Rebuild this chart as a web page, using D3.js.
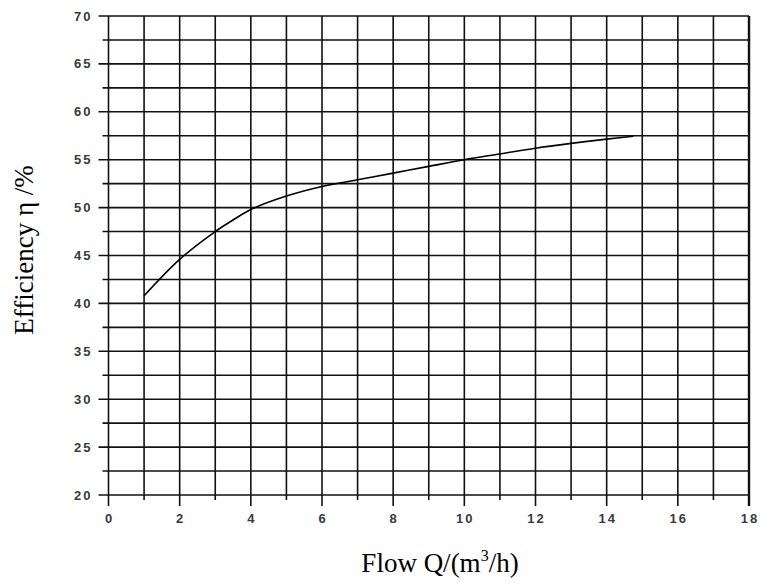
<!DOCTYPE html>
<html>
<head>
<meta charset="utf-8">
<script src="https://cdn.jsdelivr.net/npm/d3@7"></script>
<style>
  body { margin: 0; background: #fff; }
  .tick-label { font-family: "Liberation Sans", Arial, sans-serif; font-size: 13px; font-weight: bold; fill: #3a3a3a; letter-spacing: 2px; }
  .title { font-family: "Liberation Serif", "Times New Roman", serif; font-size: 27px; fill: #000; }
</style>
</head>
<body>
<div id="chart"></div>
<script>
// flow Q (m3/h) and efficiency (%)
const flow       = [1, 2, 3, 3.5, 4, 5, 6, 7, 8, 9, 10, 11, 12, 13, 14, 14.75];
const efficiency = [40.8, 44.6, 47.5, 48.7, 49.8, 51.2, 52.2, 52.9, 53.6, 54.3, 55.0, 55.6, 56.2, 56.7, 57.15, 57.45];

const xTicks = d3.range(0, 19, 1);        // grid every 1, label every 2
const yTicks = d3.range(20, 70.01, 2.5);  // grid every 2.5, label every 5

const margin = { top:16, right:14, bottom:90, left:108.5 };
const width  = 763 - margin.left - margin.right;
const height = 585 - margin.top  - margin.bottom;

const x = d3.scaleLinear().domain([0, 18]).range([0, width]);
const y = d3.scaleLinear().domain([20, 70]).range([height, 0]);

const svg = d3.select('#chart').append('svg')
    .attr('width', 763)
    .attr('height', 585)
  .append('g')
    .attr('transform', `translate(${margin.left},${margin.top})`);

// vertical grid + bottom ticks
svg.append('g')
  .selectAll('line')
  .data(xTicks)
  .join('line')
    .attr('x1', d => x(d))
    .attr('x2', d => x(d))
    .attr('y1', 0)
    .attr('y2', d => height + (d % 2 === 0 ? 11 : 5))
    .attr('stroke', '#111')
    .attr('stroke-width', d => d === 18 ? 2.4 : 1.6);

// horizontal grid + left ticks
svg.append('g')
  .selectAll('line')
  .data(yTicks)
  .join('line')
    .attr('x1', d => (d % 5 === 0 ? -10 : -6))
    .attr('x2', width)
    .attr('y1', d => y(d))
    .attr('y2', d => y(d))
    .attr('stroke', '#111')
    .attr('stroke-width', 1.6);

// tick labels
svg.append('g')
  .selectAll('text')
  .data(xTicks.filter(d => d % 2 === 0))
  .join('text')
    .attr('class', 'tick-label')
    .attr('x', d => x(d) + 1)
    .attr('y', height + 23)
    .attr('dy', '0.35em')
    .attr('text-anchor', 'middle')
    .text(d => d);

svg.append('g')
  .selectAll('text')
  .data(yTicks.filter(d => d % 5 === 0))
  .join('text')
    .attr('class', 'tick-label')
    .attr('x', -16)
    .attr('y', d => y(d))
    .attr('dy', '0.35em')
    .attr('text-anchor', 'end')
    .text(d => d);

// efficiency curve
const line = d3.line()
  .x(d => x(d[0]))
  .y(d => y(d[1]))
  .curve(d3.curveCatmullRom.alpha(0.5));

svg.append('path')
  .datum(flow.map((f, i) => [f, efficiency[i]]))
  .attr('fill', 'none')
  .attr('stroke', '#000')
  .attr('stroke-width', 1.6)
  .attr('d', line);

// axis titles
const xTitle = svg.append('text')
  .attr('class', 'title')
  .attr('x', 440 - margin.left)
  .attr('y', 572 - margin.top)
  .attr('text-anchor', 'middle');
xTitle.append('tspan').text('Flow Q/(m');
xTitle.append('tspan').attr('font-size', '16px').attr('dy', '-11').text('3');
xTitle.append('tspan').attr('dy', '11').text('/h)');

svg.append('text')
  .attr('class', 'title')
  .attr('transform', `translate(${33 - margin.left},${250 - margin.top}) rotate(-90)`)
  .attr('text-anchor', 'middle')
  .text('Efficiency \u03b7 /%');
</script>
</body>
</html>
